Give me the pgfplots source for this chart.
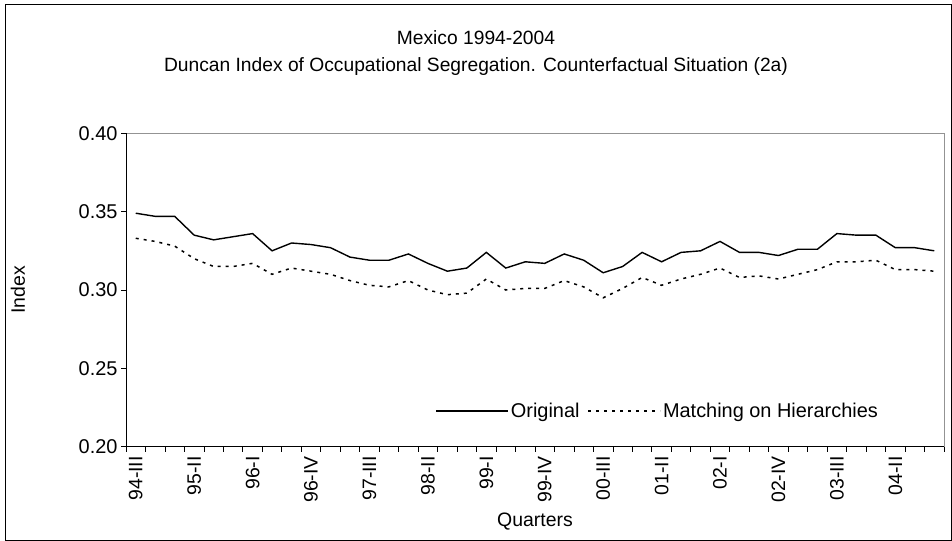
\documentclass[border=0pt]{standalone}
\usepackage{fontspec}
\setmainfont{Liberation Sans}
\usepackage{pgfplots}
\pgfplotsset{compat=1.18}
\begin{document}
\begin{tikzpicture}
\useasboundingbox (0,0) rectangle (952bp,541bp);
\draw[black, line width=0.8bp] (5bp,0.5bp) rectangle (951.5bp,537bp);
\node[font=\fontsize{19.3}{22}\selectfont] at (476bp,503bp) {Mexico 1994-2004};
\node[font=\fontsize{19.3}{22}\selectfont] at (476bp,474bp) {Duncan Index of Occupational Segregation. Counterfactual Situation (2a)};
\node[font=\fontsize{19.5}{22}\selectfont, rotate=90] at (18bp,251bp) {Index};
\node[font=\fontsize{19.5}{22}\selectfont] at (535bp,19bp) {Quarters};
\begin{axis}[
  at={(126bp,94.3bp)}, anchor=south west,
  scale only axis, width=818bp, height=313.4bp,
  xmin=-0.5, xmax=41.5, ymin=0.20, ymax=0.40,
  axis line style={draw=gray!85, line width=0.8bp},
  xtick={-0.5,0.5,...,41.5}, xticklabels={},
  extra x ticks={0,3,...,39},
  extra x tick labels={94-III,95-II,96-I,96-IV,97-III,98-II,99-I,99-IV,00-III,01-II,02-I,02-IV,03-III,04-II},
  extra x tick style={major tick length=0pt, xticklabel style={yshift=-6bp, rotate=90, anchor=east}},
  ytick={0.20,0.25,...,0.40},
  /pgf/number format/fixed, /pgf/number format/fixed zerofill, /pgf/number format/precision=2,
  /pgf/number format/assume math mode=true,
  yticklabel style={font=\fontsize{20}{22}\selectfont},
  xticklabel style={font=\fontsize{19.5}{22}\selectfont},
  tick align=outside, xtick pos=bottom, ytick pos=left,
  major tick length=5bp,
  tick style={black, line width=0.8bp},
  legend style={at={(rel axis cs:0.65,0.114)}, anchor=center, draw=none, fill=none,
    legend columns=2, font=\fontsize{20}{22}\selectfont,
    /tikz/every even column/.append style={column sep=6bp}},
  legend image code/.code={\draw[#1] (0bp,0bp) -- (72bp,0bp);},
]
\addplot[black, line width=1.4bp] table {
x y
0 0.349
1 0.347
2 0.347
3 0.335
4 0.332
5 0.334
6 0.336
7 0.325
8 0.330
9 0.329
10 0.327
11 0.321
12 0.319
13 0.319
14 0.323
15 0.317
16 0.312
17 0.314
18 0.324
19 0.314
20 0.318
21 0.317
22 0.323
23 0.319
24 0.311
25 0.315
26 0.324
27 0.318
28 0.324
29 0.325
30 0.331
31 0.324
32 0.324
33 0.322
34 0.326
35 0.326
36 0.336
37 0.335
38 0.335
39 0.327
40 0.327
41 0.325
};
\addlegendentry{Original}
\addplot[black, line width=1.5bp, dash pattern=on 3bp off 5bp] table {
x y
0 0.333
1 0.331
2 0.328
3 0.320
4 0.315
5 0.315
6 0.317
7 0.310
8 0.314
9 0.312
10 0.310
11 0.306
12 0.303
13 0.302
14 0.306
15 0.300
16 0.297
17 0.298
18 0.307
19 0.300
20 0.301
21 0.301
22 0.306
23 0.302
24 0.295
25 0.301
26 0.308
27 0.303
28 0.307
29 0.310
30 0.314
31 0.308
32 0.309
33 0.307
34 0.310
35 0.313
36 0.318
37 0.318
38 0.319
39 0.313
40 0.313
41 0.312
};
\addlegendentry{Matching on Hierarchies}
\draw[black, line width=0.8bp] (rel axis cs:0,1) -- (rel axis cs:0,0) -- (rel axis cs:1,0);
\end{axis}
\end{tikzpicture}
\end{document}
